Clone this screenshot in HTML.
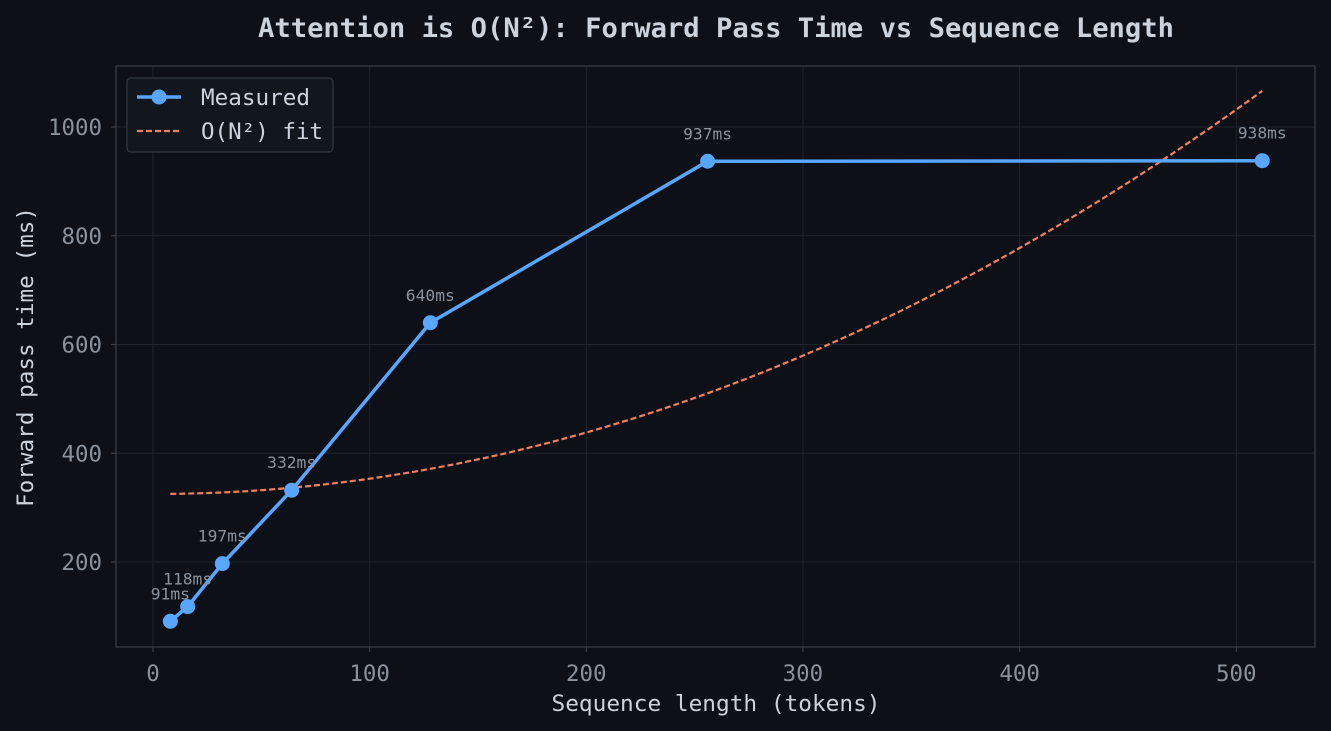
<!DOCTYPE html>
<html><head><meta charset="utf-8"><style>
html,body{margin:0;padding:0;background:#0d1017;}
svg{display:block;font-family:"DejaVu Sans Mono","Liberation Mono",monospace;}
</style></head><body>
<svg id="chart" width="1331" height="731" viewBox="0 0 1331 731" xmlns="http://www.w3.org/2000/svg">
<rect x="0" y="0" width="1331" height="731" fill="#0d1017"/>
<text x="716" y="37" text-anchor="middle" font-size="27" font-weight="bold" fill="#cdd3dc" textLength="916" lengthAdjust="spacingAndGlyphs">Attention is O(N²): Forward Pass Time vs Sequence Length</text>
<g id="grid"></g>
<rect x="116" y="66" width="1199" height="581" fill="none" stroke="#3a3f47" stroke-width="1.2"/>
<g id="ticks"></g>
<path id="fit" fill="none" stroke="#f0805f" stroke-width="2.2" stroke-dasharray="6,3"/>
<path id="measured" fill="none" stroke="#58a6ff" stroke-width="3.5"/>
<g id="points"></g>
<text x="716" y="711" text-anchor="middle" font-size="22" fill="#cdd3dc" textLength="329" lengthAdjust="spacingAndGlyphs">Sequence length (tokens)</text>
<text transform="translate(33,357) rotate(-90)" text-anchor="middle" font-size="22" fill="#cdd3dc" textLength="300" lengthAdjust="spacingAndGlyphs">Forward pass time (ms)</text>
<g>
<rect x="127" y="78" width="206" height="74" rx="4" fill="#12161d" stroke="#3a3f47"/>
<g>
<line x1="137" y1="97" x2="181" y2="97" stroke="#58a6ff" stroke-width="3.5"/>
<circle cx="159" cy="97" r="7.5" fill="#58a6ff"/>
<text x="201" y="105" font-size="22" fill="#cdd3dc" textLength="109" lengthAdjust="spacingAndGlyphs">Measured</text></g>
<g>
<line x1="137" y1="131" x2="181" y2="131" stroke="#f0805f" stroke-width="2.2" stroke-dasharray="6,3"/>
<text x="201" y="139" font-size="22" fill="#cdd3dc" textLength="122" lengthAdjust="spacingAndGlyphs">O(N²) fit</text></g>
</g>
</svg>
<script>
const seqLen=[8,16,32,64,128,256,512];
const timeMs=[91,118,197,332,640,937,938];
const fitIntercept=325;
const fitCoef=0.002828;
const xTicks=[0,100,200,300,400,500];
const yTicks=[200,400,600,800,1000];
const ns="http://www.w3.org/2000/svg";
const X=v=>153+v*2.1665;
const Y=v=>670.75-v*0.54375;
const grid=document.getElementById('grid'),ticks=document.getElementById('ticks');
function mk(t,a,p){const e=document.createElementNS(ns,t);for(const k in a)e.setAttribute(k,a[k]);p.appendChild(e);return e;}
xTicks.forEach(v=>{
 const l=mk('line',{x1:X(v),x2:X(v),y1:66,y2:647,stroke:'#1f242c','stroke-width':1},grid);
 
 
 const m=mk('line',{x1:X(v),x2:X(v),y1:647,y2:652,stroke:'#3a3f47','stroke-width':1.2},ticks);
 
 
 const s=String(v);
 const t=mk('text',{x:X(v),y:681,'text-anchor':'middle','font-size':22,fill:'#8b929c',textLength:13.5*s.length,lengthAdjust:'spacingAndGlyphs'},ticks);
 
 
 t.textContent=s;
});
yTicks.forEach(v=>{
 const l=mk('line',{x1:116,x2:1315,y1:Y(v),y2:Y(v),stroke:'#1f242c','stroke-width':1},grid);
 
 
 const m=mk('line',{x1:111,x2:116,y1:Y(v),y2:Y(v),stroke:'#3a3f47','stroke-width':1.2},ticks);
 
 
 const s=String(v);
 const t=mk('text',{x:102,y:Y(v)+8,'text-anchor':'end','font-size':22,fill:'#8b929c',textLength:13.5*s.length,lengthAdjust:'spacingAndGlyphs'},ticks);
 
 
 t.textContent=s;
});
let d='';
for(let n=seqLen[0];n<=seqLen[seqLen.length-1];n+=4){d+=(d?'L':'M')+X(n).toFixed(1)+','+Y(fitIntercept+fitCoef*n*n).toFixed(1);}
document.getElementById('fit').setAttribute('d',d);
document.getElementById('measured').setAttribute('d',seqLen.map((n,i)=>(i?'L':'M')+X(n)+','+Y(timeMs[i])).join(''));
const pts=document.getElementById('points');
seqLen.forEach((n,i)=>{
 const c=mk('circle',{cx:X(n),cy:Y(timeMs[i]),r:7.5,fill:'#58a6ff'},pts);
 
 
 const s=timeMs[i]+'ms';
 const t=mk('text',{x:X(n),y:Y(timeMs[i])-22,'text-anchor':'middle','font-size':16,fill:'#8b929c',textLength:9.8*s.length,lengthAdjust:'spacingAndGlyphs'},pts);
 
 
 t.textContent=s;
});
</script>
</body></html>
